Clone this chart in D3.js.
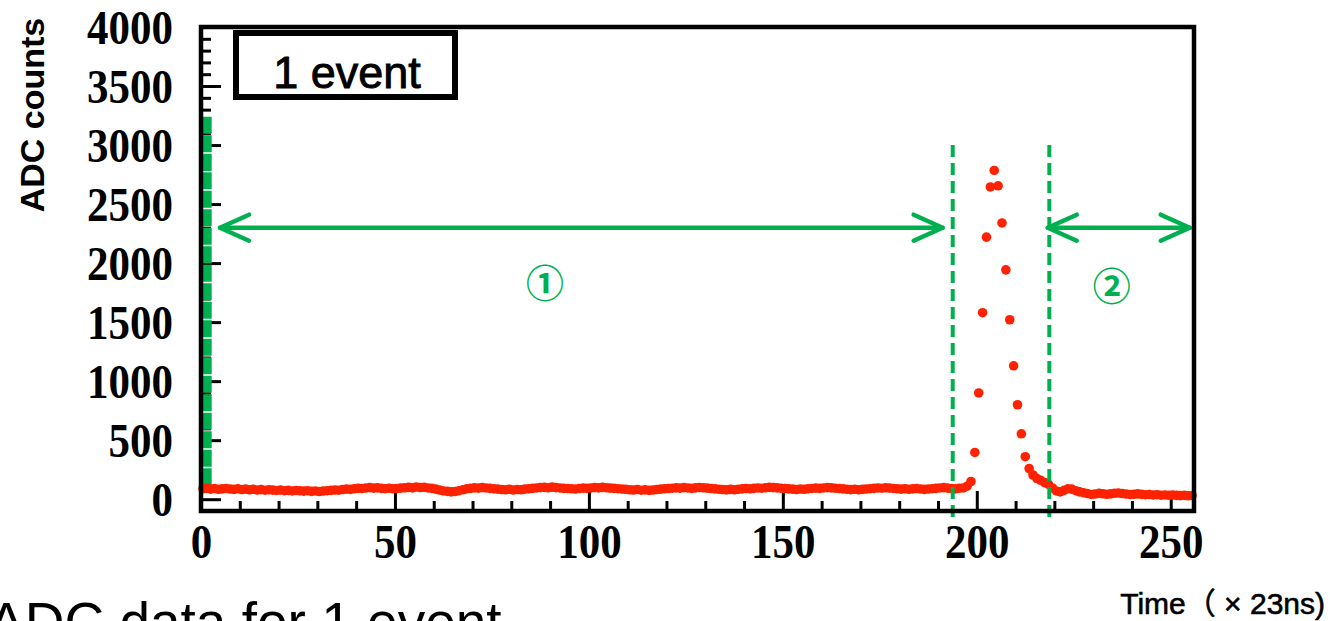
<!DOCTYPE html>
<html><head><meta charset="utf-8">
<script src="https://cdn.jsdelivr.net/npm/d3@7"></script>
<style>html,body{margin:0;padding:0;background:#fff;overflow:hidden}</style>
</head><body><svg id="c" width="1330" height="621"></svg>
<script>
// ---- data ----
const adcCounts = [
  88, 92, 85, 90, 84, 87, 91, 86, 83, 88,
  82, 85, 80, 84, 78, 81, 76, 80, 77, 74,
  78, 72, 75, 70, 74, 71, 68, 72, 66, 70,
  65, 69, 72, 75, 78, 76, 82, 85, 83, 88,
  92, 90, 95, 98, 94, 96, 92, 89, 93, 88,
  90, 94, 97, 100, 96, 103, 99, 101, 95, 92,
  85, 78, 70, 66, 62, 65, 72, 80, 88, 92,
  96, 94, 98, 95, 92, 88, 85, 82, 80, 84,
  78, 82, 80, 85, 88, 92, 95, 98, 100, 97,
  102, 98, 95, 92, 90, 88, 86, 90, 94, 92,
  95, 98, 96, 100, 97, 94, 92, 89, 86, 84,
  80, 78, 82, 76, 79, 75, 78, 82, 85, 88,
  90, 93, 96, 94, 98, 95, 92, 96, 99, 97,
  94, 90, 87, 84, 82, 79, 83, 80, 84, 87,
  90, 88, 92, 95, 93, 97, 100, 98, 96, 93,
  90, 87, 85, 82, 86, 84, 88, 91, 94, 92,
  95, 98, 96, 93, 90, 87, 84, 81, 84, 80,
  83, 86, 89, 92, 95, 93, 97, 94, 91, 88,
  85, 88, 84, 87, 90, 86, 83, 86, 89, 92,
  95, 98, 94, 90, 87, 93, 95, 110, 150, 396,
  900, 1580, 2220, 2645, 2785, 2655, 2340, 1943, 1520, 1130,
  800, 554, 360, 260, 205, 175, 160, 140, 125, 95,
  70, 62, 75, 88, 85, 72, 62, 55, 48, 40,
  44, 50, 46, 42, 45, 50, 52, 48, 44, 40,
  42, 45, 41, 38, 40, 36, 38, 34, 36, 33,
  35, 32, 30, 33, 29, 31
];
const xDomain = [0, 256];
const yDomain = [-100, 4000];
const xTickValues = [0, 50, 100, 150, 200, 250];
const yTickValues = [0, 500, 1000, 1500, 2000, 2500, 3000, 3500, 4000];
const legendText = "1 event";
const yAxisTitle = "ADC counts";
const xAxisTitle = "Time（ × 23ns)";
const captionText = "ADC data for 1 event";
// annotation geometry in data units
const windowLines = [193.8, 218.7];      // green dashed window edges
const windowLineTop = 3000;
const startLine = { x: 1.6, top: 3240 };
const arrows = [ { x1: 4.9, x2: 191.2, y: 2300 }, { x1: 218.3, x2: 254.9, y: 2300 } ];
const regionLabels = [ { text: "①", x: 88.7, y: 1830 }, { text: "②", x: 234.8, y: 1800 } ];

// ---- drawing ----
const svg = d3.select("#c");
const green = "#00b050";
const red = "#ff2200";
const L = 201, R = 1194, T = 27, B = 511;
const x = d3.scaleLinear().domain(xDomain).range([L, R]);
const y = d3.scaleLinear().domain(yDomain).range([B, T]);

svg.append("rect").attr("width", 1330).attr("height", 621).attr("fill", "#fff");

// y minor / major ticks (inward)
const yMinor = d3.range(yDomain[0], yDomain[1] + 1, 100).filter(v => v % 500 !== 0);
const yMinorAxis = svg.append("g").attr("transform", `translate(${L},0)`)
  .call(d3.axisRight(y).tickValues(yMinor).tickSize(10).tickFormat(""));
const yMajorAxis = svg.append("g").attr("transform", `translate(${L},0)`)
  .call(d3.axisRight(y).tickValues(yTickValues).tickSize(20).tickFormat(""));
const xMinor = d3.range(0, 256, 10).filter(v => v % 50 !== 0);
const xMinorAxis = svg.append("g").attr("transform", `translate(0,${B})`)
  .call(d3.axisTop(x).tickValues(xMinor).tickSize(10).tickFormat(""));
const xMajorAxis = svg.append("g").attr("transform", `translate(0,${B})`)
  .call(d3.axisTop(x).tickValues(xTickValues).tickSize(20).tickFormat(""));
[yMinorAxis, yMajorAxis, xMinorAxis, xMajorAxis].forEach(g => {
  g.select(".domain").remove();
  g.selectAll(".tick line").attr("stroke", "#000").attr("stroke-width", 3);
});

// tick labels
const fmt = d3.format("d");
const yLab = svg.append("g").attr("transform", `translate(${L},0)`)
  .call(d3.axisLeft(y).tickValues(yTickValues).tickSize(0).tickPadding(28).tickFormat(fmt));
const xLab = svg.append("g").attr("transform", `translate(0,${B})`)
  .call(d3.axisBottom(x).tickValues(xTickValues).tickSize(0).tickPadding(0).tickFormat(fmt));
[yLab, xLab].forEach(g => {
  g.select(".domain").remove();
  g.selectAll("text").attr("font-family", "'Liberation Serif', serif")
    .attr("font-weight", "bold").attr("font-size", 43).attr("fill", "#000");
});
yLab.selectAll("text").attr("dy", "0.34em").attr("transform", "scale(1,1.12)");
xLab.selectAll("text").attr("y", 0).attr("dy", 0).attr("transform", "translate(0,47) scale(1,1.12)");

// start-of-window green line
svg.append("line")
  .attr("x1", x(startLine.x)).attr("x2", x(startLine.x))
  .attr("y1", y(startLine.top)).attr("y2", y(60))
  .attr("stroke", green).attr("stroke-width", 9).attr("stroke-dasharray", "17 1.5");

// data points
svg.append("g").selectAll("circle").data(adcCounts).join("circle")
  .attr("cx", (d, i) => x(i + 0.5)).attr("cy", d => y(d))
  .attr("r", 4.8).attr("fill", red);

// window dashed lines
svg.append("g").selectAll("line").data(windowLines).join("line")
  .attr("x1", d => x(d)).attr("x2", d => x(d))
  .attr("y1", y(windowLineTop)).attr("y2", y(-150))
  .attr("stroke", green).attr("stroke-width", 4).attr("stroke-dasharray", "12 6");

// double arrows
const ag = svg.append("g").attr("stroke", green).attr("stroke-width", 4.5)
  .attr("fill", "none").attr("stroke-linecap", "round").attr("stroke-linejoin", "round");
arrows.forEach(a => {
  const x1 = x(a.x1), x2 = x(a.x2), yy = y(a.y);
  ag.append("line").attr("x1", x1).attr("x2", x2).attr("y1", yy).attr("y2", yy);
  ag.append("path").attr("d", `M${x1 + 29},${yy - 13} L${x1},${yy} L${x1 + 29},${yy + 13}`);
  ag.append("path").attr("d", `M${x2 - 29},${yy - 13} L${x2},${yy} L${x2 - 29},${yy + 13}`);
});

// region labels
svg.append("g").selectAll("text").data(regionLabels).join("text")
  .attr("x", d => x(d.x)).attr("y", d => y(d.y)).attr("dy", "0.36em")
  .attr("text-anchor", "middle")
  .attr("font-family", "'Noto Sans CJK JP', sans-serif").attr("font-size", 38)
  .attr("font-weight", "bold")
  .attr("fill", green).text(d => d.text);

// frame
svg.append("rect").attr("x", L).attr("y", T).attr("width", R - L).attr("height", B - T)
  .attr("fill", "none").attr("stroke", "#000").attr("stroke-width", 4.5);

// legend box
svg.append("rect").attr("x", 236).attr("y", 33).attr("width", 219).attr("height", 64)
  .attr("fill", "#fff").attr("stroke", "#000").attr("stroke-width", 6);
svg.append("text").attr("x", 347).attr("y", 88).attr("text-anchor", "middle")
  .attr("font-family", "'Liberation Sans', Arial, sans-serif").attr("font-size", 45)
  .attr("stroke", "#000").attr("stroke-width", 0.9)
  .attr("fill", "#000").text(legendText);

// axis titles
svg.append("text").attr("transform", "translate(44,115) rotate(-90)")
  .attr("text-anchor", "middle")
  .attr("font-family", "'Liberation Sans', Arial, sans-serif").attr("font-weight", "bold")
  .attr("font-size", 34).attr("fill", "#000").text(yAxisTitle);
svg.append("text").attr("x", 1325).attr("y", 614).attr("text-anchor", "end")
  .attr("font-family", "'Liberation Sans', 'Noto Sans CJK JP', sans-serif")
  .attr("font-size", 30).attr("stroke", "#000").attr("stroke-width", 0.6)
  .attr("fill", "#000").text(xAxisTitle);

// caption (cut by the bottom edge, as in the reference)
svg.append("text").attr("x", -12).attr("y", 641)
  .attr("font-family", "'Liberation Sans', Arial, sans-serif")
  .attr("font-size", 55).attr("fill", "#000").text(captionText);
</script>
</body></html>
